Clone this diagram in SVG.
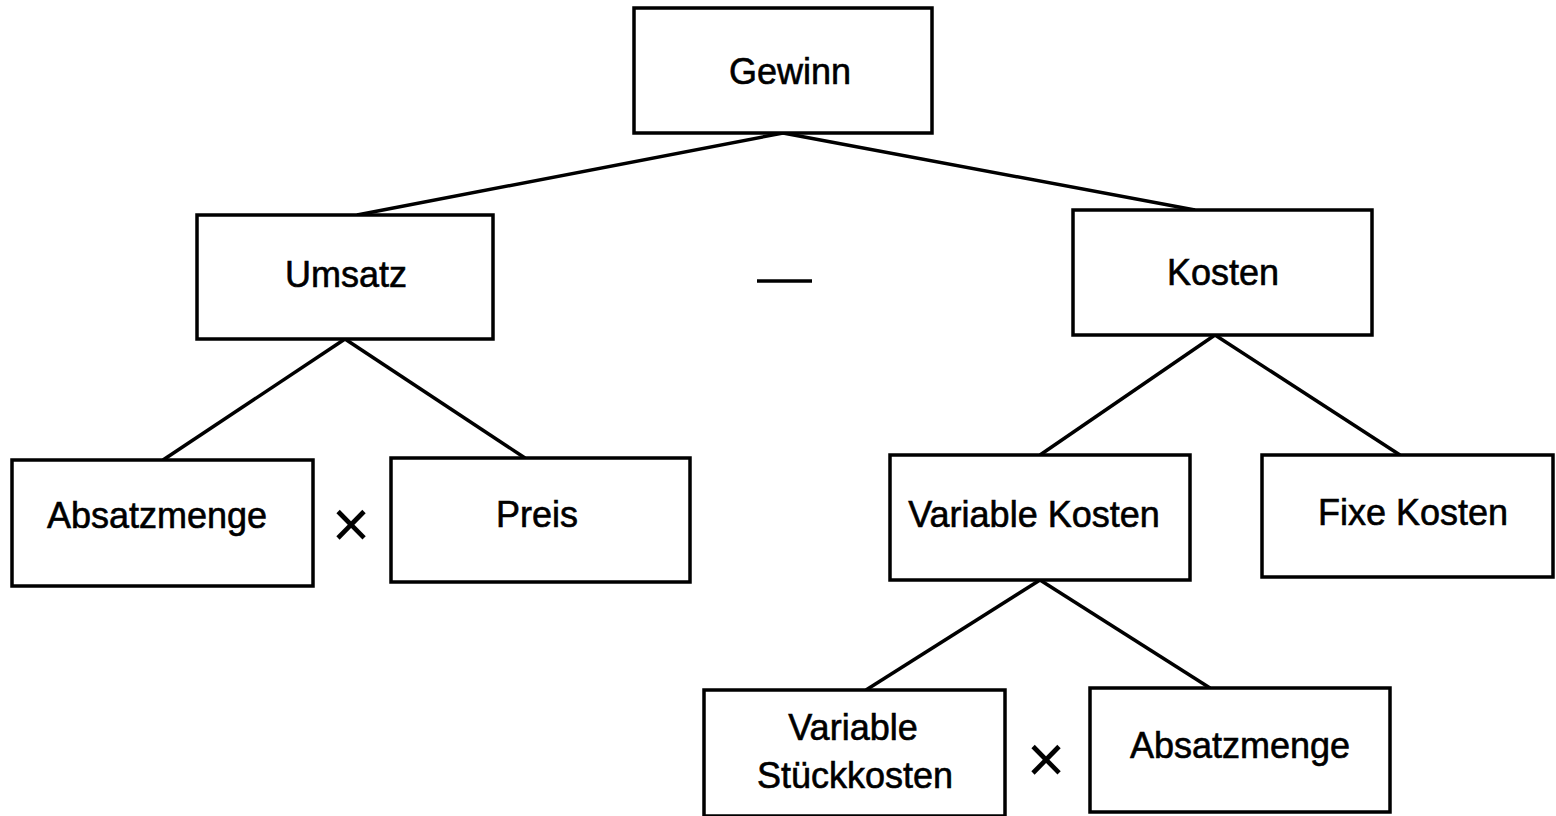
<svg xmlns="http://www.w3.org/2000/svg" width="1556" height="816" viewBox="0 0 1556 816">
<style>
.box{fill:#fff;stroke:#000;stroke-width:3.5}
.lbl{font-family:"Liberation Sans",Arial,sans-serif;font-size:36px;fill:#000;text-anchor:middle;stroke:#000;stroke-width:0.6}
.op{font-family:"Liberation Sans",Arial,sans-serif;font-size:66px;fill:#000;text-anchor:middle}
.conn line{stroke:#000;stroke-width:3.5}
</style>
<rect width="1556" height="816" fill="#fff"/>
<g id="connectors" class="conn">
<line x1="783" y1="133" x2="357" y2="215"/>
<line x1="783" y1="133" x2="1195" y2="210"/>
<line x1="345" y1="339" x2="163" y2="460"/>
<line x1="345" y1="339" x2="525" y2="458"/>
<line x1="1215" y1="335" x2="1040" y2="455"/>
<line x1="1215" y1="335" x2="1400" y2="455"/>
<line x1="1040" y1="580" x2="866" y2="690"/>
<line x1="1040" y1="580" x2="1210" y2="688"/>
</g>
<g id="gewinn"><rect class="box" x="634" y="8" width="298" height="125"/><text class="lbl" x="790" y="84">Gewinn</text></g>
<g id="umsatz"><rect class="box" x="197" y="215" width="296" height="124"/><text class="lbl" x="346" y="287">Umsatz</text></g>
<g id="kosten"><rect class="box" x="1073" y="210" width="299" height="125"/><text class="lbl" x="1223" y="285">Kosten</text></g>
<g id="absatzmenge1"><rect class="box" x="12" y="460" width="301" height="126"/><text class="lbl" x="157" y="528">Absatzmenge</text></g>
<g id="preis"><rect class="box" x="391" y="458" width="299" height="124"/><text class="lbl" x="537" y="527">Preis</text></g>
<g id="variable-kosten"><rect class="box" x="890" y="455" width="300" height="125"/><text class="lbl" x="1034" y="527">Variable Kosten</text></g>
<g id="fixe-kosten"><rect class="box" x="1262" y="455" width="291" height="122"/><text class="lbl" x="1413" y="525">Fixe Kosten</text></g>
<g id="variable-stueckkosten"><rect class="box" x="704" y="690" width="301" height="126"/><text class="lbl" x="853" y="740">Variable</text><text class="lbl" x="855" y="788">Stückkosten</text></g>
<g id="absatzmenge2"><rect class="box" x="1090" y="688" width="300" height="124"/><text class="lbl" x="1240" y="758">Absatzmenge</text></g>
<g id="operators">
<line x1="757" y1="281" x2="812" y2="281" stroke="#000" stroke-width="3.5"/>
<text class="op" x="351" y="547">×</text>
<text class="op" x="1046" y="782">×</text>
</g>
</svg>
